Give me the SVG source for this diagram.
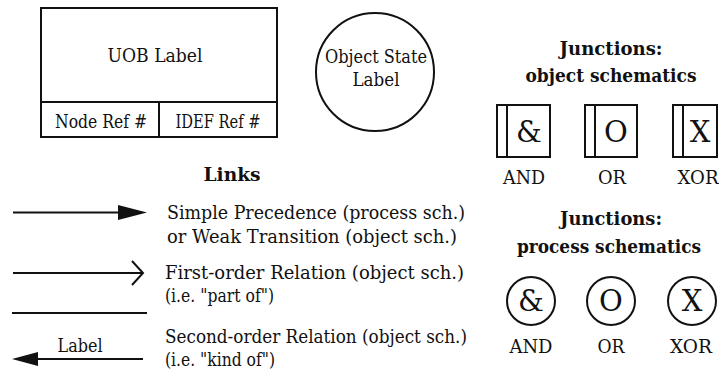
<svg xmlns="http://www.w3.org/2000/svg" width="719" height="377" viewBox="0 0 719 377">
<style>
text{fill:#111;font-family:'DejaVu Serif',serif}
.t{font-size:18px}
.c{text-anchor:middle}
.h{font-size:18px;font-weight:bold;text-anchor:middle}
.sym{font-size:29px;text-anchor:middle}
.s{fill:none;stroke:#111;stroke-width:2}
</style>
<rect width="719" height="377" fill="#fff"/>
<g id="uob">
<rect class="s" x="41" y="8" width="236" height="129"/>
<line class="s" x1="41" y1="102" x2="277" y2="102"/>
<line class="s" x1="159" y1="102" x2="159" y2="137"/>
<text class="t c" x="155" y="62" textLength="95" lengthAdjust="spacingAndGlyphs">UOB Label</text>
<text class="t c" x="101" y="128" textLength="92" lengthAdjust="spacingAndGlyphs">Node  Ref #</text>
<text class="t c" x="218" y="128" textLength="85" lengthAdjust="spacingAndGlyphs">IDEF Ref #</text>
</g>
<g id="object-state">
<circle class="s" cx="375" cy="72" r="59"/>
<text class="t c" x="376" y="63" textLength="102" lengthAdjust="spacingAndGlyphs">Object State</text>
<text class="t c" x="376" y="86" textLength="47" lengthAdjust="spacingAndGlyphs">Label</text>
</g>
<g id="links-title"><text class="h" x="232" y="181" font-size="20" textLength="57" lengthAdjust="spacingAndGlyphs">Links</text></g>
<g id="links">
<line class="s" x1="13" y1="212.5" x2="120" y2="212.5"/>
<polygon points="118,205 147,212.5 118,220" fill="#111"/>
<line class="s" x1="13" y1="273" x2="142" y2="273"/>
<polyline class="s" points="132,261 143,273 132,285"/>
<line class="s" x1="12" y1="313" x2="147" y2="313"/>
<line class="s" x1="36" y1="359" x2="143" y2="359"/>
<polygon points="12,359 38,352 38,366" fill="#111"/>
</g>
<g id="link-texts">
<text class="t" x="167" y="219" textLength="298" lengthAdjust="spacingAndGlyphs">Simple Precedence (process sch.)</text>
<text class="t" x="167" y="243" textLength="290" lengthAdjust="spacingAndGlyphs">or Weak Transition (object sch.)</text>
<text class="t" x="165" y="279" textLength="299" lengthAdjust="spacingAndGlyphs">First-order Relation (object sch.)</text>
<text class="t" x="165" y="302" textLength="109" lengthAdjust="spacingAndGlyphs">(i.e. "part of")</text>
<text class="t" x="165" y="343" textLength="302" lengthAdjust="spacingAndGlyphs">Second-order Relation (object sch.)</text>
<text class="t" x="165" y="366" textLength="110" lengthAdjust="spacingAndGlyphs">(i.e. "kind of")</text>
<text class="t c" x="80" y="352" textLength="45" lengthAdjust="spacingAndGlyphs">Label</text>
</g>
<g id="obj-title">
<text class="h" x="611" y="55" textLength="103" lengthAdjust="spacingAndGlyphs">Junctions:</text>
<text class="h" x="611" y="82" textLength="171" lengthAdjust="spacingAndGlyphs">object schematics</text>
</g>
<g id="obj-and">
<rect class="s" x="497" y="105" width="53" height="52"/>
<line class="s" x1="507" y1="105" x2="507" y2="157"/>
<text class="sym" x="529" y="142">&amp;</text>
<text class="t c" x="524" y="184" textLength="42" lengthAdjust="spacingAndGlyphs">AND</text>
</g>
<g id="obj-or">
<rect class="s" x="585" y="105" width="52" height="52"/>
<line class="s" x1="595" y1="105" x2="595" y2="157"/>
<text class="sym" x="616" y="142">O</text>
<text class="t c" x="612" y="184" textLength="28" lengthAdjust="spacingAndGlyphs">OR</text>
</g>
<g id="obj-xor">
<rect class="s" x="673" y="105" width="44" height="52"/>
<line class="s" x1="683" y1="105" x2="683" y2="157"/>
<text class="sym" x="700" y="142">X</text>
<text class="t c" x="698" y="184" textLength="41" lengthAdjust="spacingAndGlyphs">XOR</text>
</g>
<g id="proc-title">
<text class="h" x="611" y="225" textLength="102" lengthAdjust="spacingAndGlyphs">Junctions:</text>
<text class="h" x="609" y="253" textLength="184" lengthAdjust="spacingAndGlyphs">process schematics</text>
</g>
<g id="proc-and">
<circle class="s" cx="531" cy="301" r="24"/>
<text class="sym" x="531" y="311">&amp;</text>
<text class="t c" x="531" y="353" textLength="43" lengthAdjust="spacingAndGlyphs">AND</text>
</g>
<g id="proc-or">
<circle class="s" cx="611" cy="301" r="24"/>
<text class="sym" x="611" y="311">O</text>
<text class="t c" x="611" y="353" textLength="27" lengthAdjust="spacingAndGlyphs">OR</text>
</g>
<g id="proc-xor">
<circle class="s" cx="692" cy="301" r="24"/>
<text class="sym" x="692" y="311">X</text>
<text class="t c" x="691" y="353" textLength="42" lengthAdjust="spacingAndGlyphs">XOR</text>
</g>
</svg>
